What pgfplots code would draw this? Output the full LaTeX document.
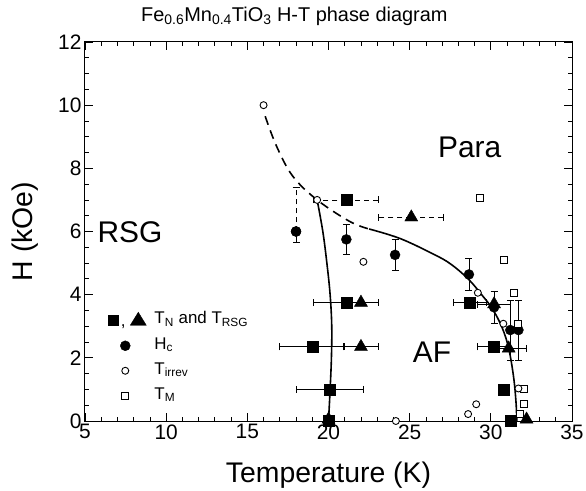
\documentclass[border=0pt]{standalone}
\usepackage{fontspec}
\setmainfont{Liberation Sans}
\usepackage{pgfplots}
\pgfplotsset{compat=1.18}
\begin{document}
\begin{tikzpicture}
\begin{axis}[
  scale only axis, width=487bp, height=379bp,
  xmin=5, xmax=35, ymin=0, ymax=12,
  xtick={5,10,...,35}, ytick={0,2,...,12},
  minor x tick num=4, minor y tick num=3,
  tick align=inside,
  major tick length=8bp, minor tick length=4bp,
  axis line style={line width=1bp},
  every tick/.style={black, line width=0.8bp},
  tick label style={font=\fontsize{21}{24}\selectfont},
  /pgf/number format/assume math mode=true,
  xlabel={Temperature (K)}, ylabel={H (kOe)},
  label style={font=\fontsize{28.5}{30}\selectfont},
  xlabel style={at={(axis description cs:0.5,-0.1)}, anchor=north},
  ylabel style={at={(axis description cs:-0.1232,0.5)}, anchor=center},
  title={Fe\textsubscript{0.6}Mn\textsubscript{0.4}TiO\textsubscript{3} H-T phase diagram},
  title style={at={(axis description cs:0.43,1.0396)}, anchor=base, font=\fontsize{20}{22}\selectfont},
  clip=false,
  legend style={draw=none, fill=none, at={(0.047,0.294)}, anchor=north west, inner sep=0pt,
    row sep=4bp, column sep=6bp, font=\fontsize{17}{17}\selectfont,
    nodes={inner sep=2bp, text height=12bp, text depth=5bp}},
  legend cell align=left,
]
% legend
\addlegendimage{legend image code/.code={
  \fill[black] (0bp,-5bp) rectangle (10bp,5bp);
  \node[inner sep=0pt, anchor=base, font=\fontsize{17}{17}\selectfont] at (15bp,-6bp) {,};
  \fill[black] (22bp,-5bp) -- (38bp,-5bp) -- (30bp,8bp) -- cycle;
}}
\addlegendentry{T\textsubscript{N} and T\textsubscript{RSG}}
\addlegendimage{legend image code/.code={\fill[black] (17bp,0) circle (5bp); \path (0,0) (38bp,0);}}
\addlegendentry{H\textsubscript{c}}
\addlegendimage{legend image code/.code={\draw[black, fill=white, line width=0.9bp] (17bp,0) circle (3.5bp); \path (0,0) (38bp,0);}}
\addlegendentry{T\textsubscript{irrev}}
\addlegendimage{legend image code/.code={\draw[black, fill=white, line width=0.9bp] (13.5bp,-3.5bp) rectangle (20.5bp,3.5bp); \path (0,0) (38bp,0);}}
\addlegendentry{T\textsubscript{M}}

% curves
\addplot[forget plot, black, line width=1.6bp, dash pattern=on 9bp off 6bp, smooth, tension=0.6] coordinates {
 (16.1,9.65) (16.8,8.7) (17.8,7.75) (19.3,7.0) (21.3,6.32) (22.5,6.08)};
\addplot[forget plot, black, line width=1.6bp, smooth, tension=0.6] coordinates {
 (22.5,6.08) (24.4,5.78) (26.4,5.3) (27.5,4.98) (28.6,4.5) (29.4,4.02) (30.1,3.55) (30.7,2.95) (31.1,2.3) (31.4,1.4) (31.55,0.6) (31.6,0)};
\addplot[forget plot, black, line width=1.6bp, smooth, tension=0.6] coordinates {
 (19.3,7.0) (19.65,6.0) (19.9,5.0) (20.1,4.0) (20.2,3.0) (20.18,2.0) (20.1,1.0) (20.0,0)};

% filled squares, T_N
\addplot[forget plot, black, only marks, mark=square*, mark size=5.5bp,
  error bars/.cd, x dir=both, x explicit,
  error bar style={line width=0.8bp},
  error mark options={rotate=90, mark size=3.5bp, line width=0.8bp}] coordinates {
 (21.1,3.75) +- (2,0)
 (19.0,2.35) +- (2,0)
 (20.1,1.0) +- (2.05,0)
 (28.7,3.75) +- (1,0)
 (30.2,2.35) +- (1,0)};
\addplot[forget plot, black, only marks, mark=square*, mark size=5.5bp,
  error bars/.cd, x dir=both, x explicit,
  error bar style={line width=0.8bp, dash pattern=on 5bp off 4bp},
  error mark options={rotate=90, mark size=3.5bp, line width=0.8bp, solid}] coordinates {
 (21.1,7.0) +- (2,0)};
% triangles, T_RSG
\addplot[forget plot, black, only marks, mark=triangle*, mark size=7.5bp,
  error bars/.cd, x dir=both, x explicit,
  error bar style={line width=0.8bp},
  error mark options={rotate=90, mark size=3.5bp, line width=0.8bp}] coordinates {
 (22.0,3.75) +- (1.1,0)
 (22.0,2.35) +- (1.1,0)
 (30.2,3.7) +- (1,0)
 (31.1,2.3) +- (1.1,0)};
\addplot[forget plot, black, only marks, mark=triangle*, mark size=7.5bp,
  error bars/.cd, x dir=both, x explicit,
  error bar style={line width=0.8bp, dash pattern=on 5bp off 4bp},
  error mark options={rotate=90, mark size=3.5bp, line width=0.8bp, solid}] coordinates {
 (25.1,6.45) +- (2,0)};
\addplot[forget plot, black, only marks, mark=triangle*, mark size=7.5bp] coordinates {
 (20.0,0.05) (32.2,0.05)};
\addplot[forget plot, black, only marks, mark=square*, mark size=5.5bp] coordinates {
 (20.0,0) (30.8,1.0) (31.25,0)};

% filled circles, H_c
\addplot[forget plot, black, only marks, mark=*, mark size=5bp,
  error bars/.cd, y dir=plus, y explicit,
  error bar style={line width=0.8bp, dash pattern=on 5bp off 4bp},
  error mark options={rotate=90, mark size=3.5bp, line width=0.8bp, solid}] coordinates {
 (18.0,6.0) +- (0,1.4)};
\addplot[forget plot, black, only marks, mark=*, mark size=5bp,
  error bars/.cd, y dir=minus, y explicit,
  error bar style={line width=0.8bp},
  error mark options={rotate=90, mark size=3.5bp, line width=0.8bp}] coordinates {
 (18.0,6.0) +- (0,0.34)};
\addplot[forget plot, black, only marks, mark=*, mark size=5bp,
  error bars/.cd, y dir=both, y explicit,
  error bar style={line width=0.8bp},
  error mark options={rotate=90, mark size=3.5bp, line width=0.8bp}] coordinates {
 (21.1,5.75) +- (0,0.48)
 (24.1,5.26) +- (0,0.49)
 (28.65,4.64) +- (0,0.5)
 (30.2,3.6) +- (0,0.5)
 (31.2,2.88) +- (0,0.95)
 (31.7,2.88) +- (0,0.95)};

% open squares, T_M
\addplot[forget plot, black, only marks, mark=square*, mark size=3.5bp, line width=0.9bp,
  mark options={fill=white}] coordinates {
 (29.35,7.05) (30.8,5.1) (31.45,4.06) (31.65,3.07) (32.05,1.02) (32.05,0.53) (31.8,0.22)};
% open circles, T_irrev
\addplot[forget plot, black, only marks, mark=*, mark size=3.5bp, line width=0.9bp,
  mark options={fill=white}] coordinates {
 (16,10) (19.3,7.0) (22.15,5.04) (24.15,0) (29.2,4.06) (30.77,3.08) (31.7,1.03) (29.1,0.53) (28.6,0.22)};

\node[font=\fontsize{30}{32}\selectfont] at (axis cs:28.7,8.67) {Para};
\node[font=\fontsize{30}{32}\selectfont] at (axis cs:7.77,5.98) {RSG};
\node[font=\fontsize{30}{32}\selectfont] at (axis cs:26.38,2.18) {AF};
\end{axis}
\pgfresetboundingbox
\path (current axis.south west) ++(-85bp,-70bp) rectangle ++(586bp,491bp);
\end{tikzpicture}
\end{document}
